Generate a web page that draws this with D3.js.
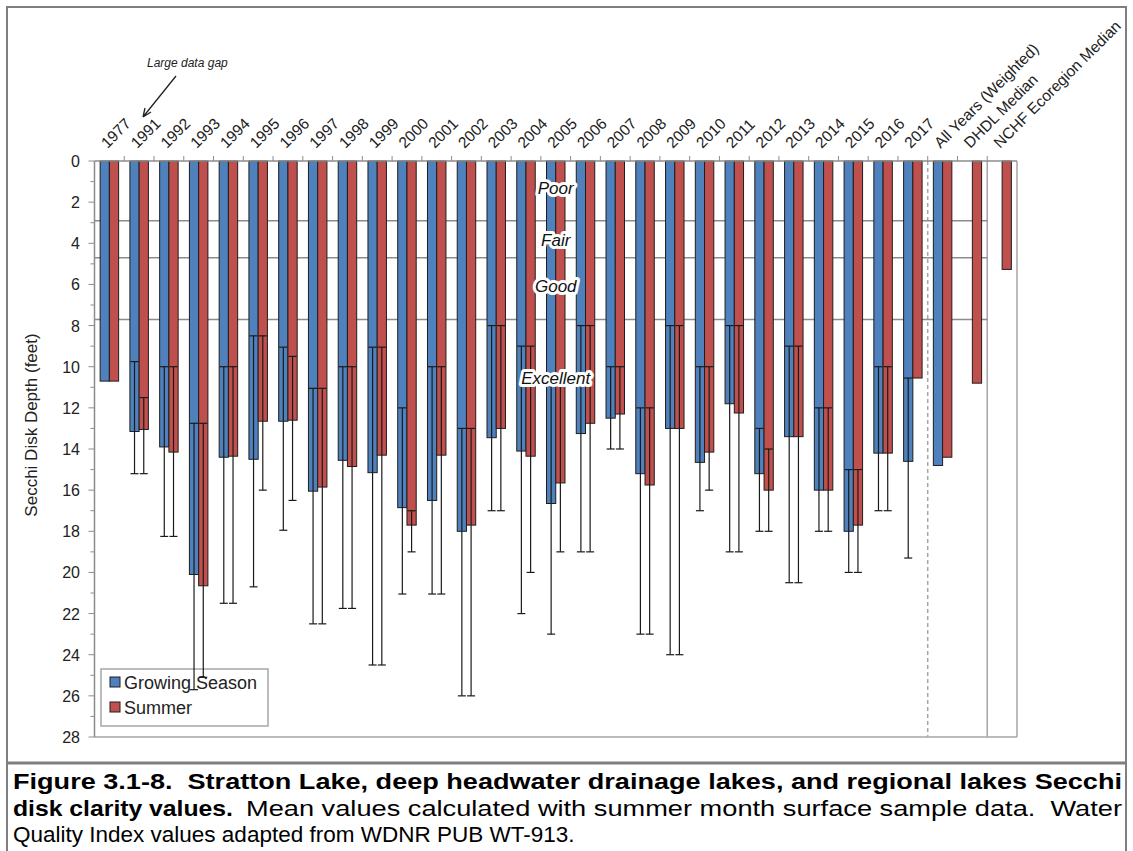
<!DOCTYPE html>
<html><head><meta charset="utf-8">
<script src="https://cdn.jsdelivr.net/npm/d3@7"></script>
<style>body{margin:0;background:#fff} svg{display:block} text{font-family:"Liberation Sans",Arial,sans-serif}</style>
</head><body><svg id="c" width="1133" height="851"></svg>
<script>
const categories = ["1977","1991","1992","1993","1994","1995","1996","1997","1998","1999","2000","2001","2002","2003","2004","2005","2006","2007","2008","2009","2010","2011","2012","2013","2014","2015","2016","2017","All Years (Weighted)","DHDL Median","NCHF Ecoregion Median"];
const growingMean = [10.7,13.15,13.9,20.1,14.4,14.5,12.65,16.05,14.55,15.15,16.85,16.5,18.0,13.45,14.1,16.65,13.25,12.5,15.2,13.0,14.65,11.8,15.2,13.4,16.0,18.0,14.2,14.6,14.8,null,null];
const growingMin = [null,9.75,10,12.75,10,8.5,9.05,11.05,10,9.05,12,10,13,8,9,10.6,8,10,12,8,10,8,13,9,12,15,10,10.55,null,null,null];
const growingMax = [null,15.2,18.25,25.7,21.5,20.7,17.95,22.5,21.75,24.5,21.05,21.05,26,17,22,23,19,14,23,24,17,19,18,20.5,18,20,17,19.3,null,null,null];
const summerMean = [10.7,13.05,14.15,20.65,14.35,12.65,12.6,15.85,14.85,14.3,17.7,14.3,17.7,13.0,14.35,15.65,12.75,12.3,15.75,13.0,14.15,12.25,16.0,13.4,16.0,17.7,14.2,10.55,14.4,10.8,5.27];
const summerMin = [null,11.5,10,12.75,10,8.5,9.5,11.05,10,9.05,17,10,13,8,9,10.6,8,10,12,8,10,8,14,9,12,15,10,null,null,null,null];
const summerMax = [null,15.2,18.25,25.1,21.5,16,16.5,22.5,21.75,24.5,19,21.05,26,17,20,19,19,14,23,24,16,19,18,20.5,18,20,17,null,null,null,null];
const seriesNames = ["Growing Season","Summer"];
const seriesColors = ["#4F81BD","#C0504D"];
const qualityBreaks = [2.9, 4.7, 7.7];
const qualityLabels = ["Poor","Fair","Good","Excellent"];
const yTicks = d3.range(0, 29, 2);
const captionBold1 = "Figure 3.1-8.  Stratton Lake, deep headwater drainage lakes, and regional lakes Secchi";
const captionBold2 = "disk clarity values.";
const captionText2 = "Mean values calculated with summer month surface sample data.  Water";
const captionText3 = "Quality Index values adapted from WDNR PUB WT-913.";

const svg = d3.select("#c");
const L = 94.5, R = 1017, T = 161, B = 737;
const x = d3.scaleBand().domain(categories).range([L, R]).padding(0);
const sub = d3.scaleBand().domain([0,1]).range([0, x.bandwidth()]).paddingInner(0).paddingOuter(0.61);
const y = d3.scaleLinear().domain([0, 28]).range([T, B]);
const bw = sub.bandwidth();

// frame
svg.append("rect").attr("x",7).attr("y",7).attr("width",1119).attr("height",860)
  .attr("fill","none").attr("stroke","#7f7f7f").attr("stroke-width",2);
svg.append("line").attr("x1",7).attr("x2",1126).attr("y1",763).attr("y2",763)
  .attr("stroke","#7f7f7f").attr("stroke-width",3);

// legend (behind bars)
const lg = svg.append("g");
lg.append("rect").attr("x",101).attr("y",669).attr("width",167).attr("height",57)
  .attr("fill","#fff").attr("stroke","#a6a6a6").attr("stroke-width",1.5);
seriesNames.forEach((n, i) => {
  lg.append("rect").attr("x",110).attr("y",677+i*25).attr("width",10).attr("height",10)
    .attr("fill",seriesColors[i]).attr("stroke","#1e1e1e").attr("stroke-width",1);
  lg.append("text").attr("x",124).attr("y",689+i*25).attr("font-size",18).attr("fill","#222").text(n);
});

const g = svg.append("g");
g.append("line").attr("x1",L).attr("x2",R).attr("y1",B).attr("y2",B).attr("stroke","#a6a6a6").attr("stroke-width",1.5);
g.append("line").attr("x1",R).attr("x2",R).attr("y1",T).attr("y2",B).attr("stroke","#a6a6a6").attr("stroke-width",1.5);
const xDash = x(categories[28]);
const xSolid = x(categories[30]);
g.append("line").attr("x1",xDash).attr("x2",xDash).attr("y1",T).attr("y2",B).attr("stroke","#a6a6a6").attr("stroke-width",1.5).attr("stroke-dasharray","4,3");
g.append("line").attr("x1",xSolid).attr("x2",xSolid).attr("y1",T).attr("y2",B).attr("stroke","#a6a6a6").attr("stroke-width",1.5);

g.selectAll(".qb").data(qualityBreaks).join("line")
  .attr("x1",L).attr("x2",xSolid).attr("y1",d=>y(d)).attr("y2",d=>y(d))
  .attr("stroke","#8c8c8c").attr("stroke-width",1.5);

const series = [
  {mean: growingMean, min: growingMin, max: growingMax},
  {mean: summerMean, min: summerMin, max: summerMax}
];
series.forEach((s, si) => {
  const bars = categories.map((c, i) => ({c, m: s.mean[i]})).filter(r => r.m != null);
  g.selectAll(".bar"+si).data(bars).join("rect")
    .attr("x", r => x(r.c) + sub(si)).attr("width", bw)
    .attr("y", y(0)).attr("height", r => y(r.m) - y(0))
    .attr("fill", seriesColors[si]).attr("stroke","#1e1e1e").attr("stroke-width",1);
});
series.forEach((s, si) => {
  const rows = categories.map((c, i) => ({c, lo: s.min[i], hi: s.max[i]})).filter(r => r.lo != null);
  const cx = r => x(r.c) + sub(si) + bw/2;
  const eg = g.append("g").attr("stroke","#1a1a1a").attr("stroke-width",1.2);
  eg.selectAll(".v").data(rows).join("line")
    .attr("x1",cx).attr("x2",cx).attr("y1",r=>y(r.lo)).attr("y2",r=>y(r.hi));
  eg.selectAll(".c1").data(rows).join("line")
    .attr("x1",r=>cx(r)-bw/2+0.5).attr("x2",r=>cx(r)+bw/2-0.5).attr("y1",r=>y(r.lo)).attr("y2",r=>y(r.lo));
  eg.selectAll(".c2").data(rows).join("line")
    .attr("x1",r=>cx(r)-4).attr("x2",r=>cx(r)+4).attr("y1",r=>y(r.hi)).attr("y2",r=>y(r.hi));
});

const qx = x("2005") + x.bandwidth()/2;
const qPos = [1.3, 3.85, 6.1, 10.55];
g.selectAll(".ql").data(qualityLabels).join("text")
  .attr("x", qx).attr("y", (d,i) => y(qPos[i]) + 6)
  .attr("text-anchor","middle").attr("font-size",17).attr("font-style","italic")
  .attr("fill","#111").attr("stroke","#fff").attr("stroke-width",6).attr("stroke-linejoin","round")
  .attr("paint-order","stroke").text(d => d);

// y axis
g.append("line").attr("x1",L).attr("x2",L).attr("y1",T).attr("y2",B).attr("stroke","#8c8c8c").attr("stroke-width",1.5);
g.selectAll(".mt").data(d3.range(0,29,1)).join("line")
  .attr("x1", d => d%2===0 ? L-6 : L-4).attr("x2", L).attr("y1", d=>y(d)).attr("y2", d=>y(d))
  .attr("stroke","#8c8c8c").attr("stroke-width",1);
g.selectAll(".yl").data(yTicks).join("text")
  .attr("x", 80).attr("y", d => y(d) + 6).attr("text-anchor","end")
  .attr("font-size",16).attr("fill","#222").text(d => d);
svg.append("text").attr("transform","translate(37,425) rotate(-90)")
  .attr("text-anchor","middle").attr("font-size",17).attr("fill","#222").text("Secchi Disk Depth (feet)");

// x axis (top)
g.append("line").attr("x1",L).attr("x2",R).attr("y1",T).attr("y2",T).attr("stroke","#8c8c8c").attr("stroke-width",1.5);
g.selectAll(".xt").data(categories.slice(1)).join("line")
  .attr("x1", d=>x(d)).attr("x2", d=>x(d)).attr("y1",T-5).attr("y2",T).attr("stroke","#8c8c8c").attr("stroke-width",1);
g.selectAll(".xl").data(categories).join("text")
  .attr("transform", d => `translate(${x(d)+x.bandwidth()/2-2},149) rotate(-45)`)
  .attr("font-size",15.5).attr("fill","#222").text(d => d);

svg.append("text").attr("x",147).attr("y",67).attr("font-size",12).attr("font-style","italic").attr("fill","#222").text("Large data gap");
svg.append("path").attr("d","M176,76 L143,117 M143,117 L145,108 M143,117 L151,112")
  .attr("stroke","#222").attr("stroke-width",1.3).attr("fill","none");

// caption
const capFont = 22.5;
const cap = svg.append("g").attr("font-size", capFont).attr("fill","#000");
cap.append("text").attr("x",13).attr("y",789).attr("font-weight","bold").style("white-space","pre")
  .attr("textLength",1109).attr("lengthAdjust","spacingAndGlyphs").text(captionBold1);
cap.append("text").attr("x",13).attr("y",815.5).attr("font-weight","bold")
  .attr("textLength",220).attr("lengthAdjust","spacingAndGlyphs").text(captionBold2);
cap.append("text").attr("x",246).attr("y",815.5).style("white-space","pre")
  .attr("textLength",876).attr("lengthAdjust","spacingAndGlyphs").text(captionText2);
cap.append("text").attr("x",13).attr("y",842).text(captionText3);
</script></body></html>
